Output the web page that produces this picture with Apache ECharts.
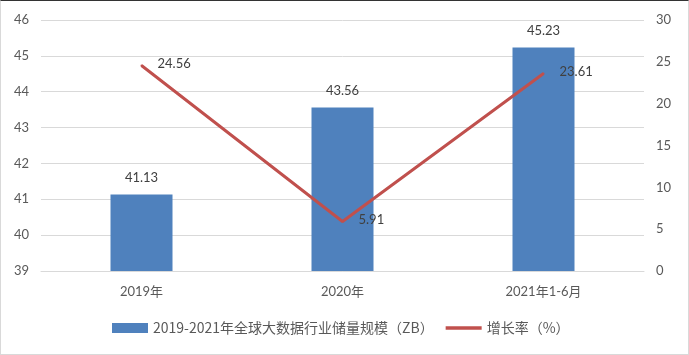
<!DOCTYPE html>
<html>
<head>
<meta charset="utf-8">
<script src="https://cdn.jsdelivr.net/npm/echarts@6/dist/echarts.min.js"></script>
<style>
  html, body { margin: 0; padding: 0; background: #fff; }
  #chart { width: 687px; height: 353px; border: 1px solid #d9d9d9; border-top-color: #333; }
</style>
</head>
<body>
<div id="chart"></div>
<script>
// 数据
const categories = ['2019年', '2020年', '2021年1-6月']
const scaleData = [41.13, 43.56, 45.23]   // 全球大数据行业储量规模（ZB）
const growthData = [24.56, 5.91, 23.61]   // 增长率（%）
const barName = '2019-2021年全球大数据行业储量规模（ZB）'
const lineName = '增长率（%）'

const font = 'Lato, "Noto Sans CJK SC", sans-serif'
const chart = echarts.init(document.getElementById('chart'))

chart.setOption({
  animation: false,
  textStyle: { fontFamily: font },
  grid: { left: 40, right: 44, top: 19, bottom: 83 },
  legend: {
    left: 106,
    bottom: 14,
    itemGap: 12,
    itemWidth: 36,
    itemHeight: 10,
    textStyle: { fontSize: 14, color: '#595959', fontFamily: '"Noto Sans CJK SC", sans-serif' },
    data: [
      { name: barName, icon: 'rect' },
      { name: lineName, icon: 'path://M0 0H40V4H0Z' }
    ]
  },
  xAxis: {
    type: 'category',
    data: categories,
    axisTick: { show: false },
    axisLine: { lineStyle: { color: '#d9d9d9' } },
    axisLabel: { color: '#595959', fontSize: 13, margin: 14 }
  },
  yAxis: [
    {
      type: 'value',
      min: 39, max: 46, interval: 1,
      axisLine: { show: false },
      axisTick: { show: false },
      axisLabel: { color: '#595959', fontSize: 13, margin: 12 },
      splitLine: { lineStyle: { color: '#d9d9d9' } }
    },
    {
      type: 'value',
      min: 0, max: 30, interval: 5,
      axisLine: { show: false },
      axisTick: { show: false },
      axisLabel: { color: '#595959', fontSize: 13, margin: 12 },
      splitLine: { show: false }
    }
  ],
  series: [
    {
      name: barName,
      type: 'bar',
      data: scaleData,
      barWidth: 62,
      itemStyle: { color: '#4f81bd' },
      label: { show: true, position: 'top', distance: 10, color: '#404040', fontSize: 13 }
    },
    {
      name: lineName,
      type: 'line',
      yAxisIndex: 1,
      data: growthData,
      symbol: 'circle',
      symbolSize: 2,
      showSymbol: true,
      lineStyle: { color: '#c0504d', width: 3 },
      itemStyle: { color: '#c0504d' },
      labelLayout: { moveOverlap: false, hideOverlap: false },
      label: {
        show: true, position: [17, -7], align: 'left', verticalAlign: 'top',
        color: '#404040', fontSize: 13
      }
    }
  ]
})
</script>
</body>
</html>
